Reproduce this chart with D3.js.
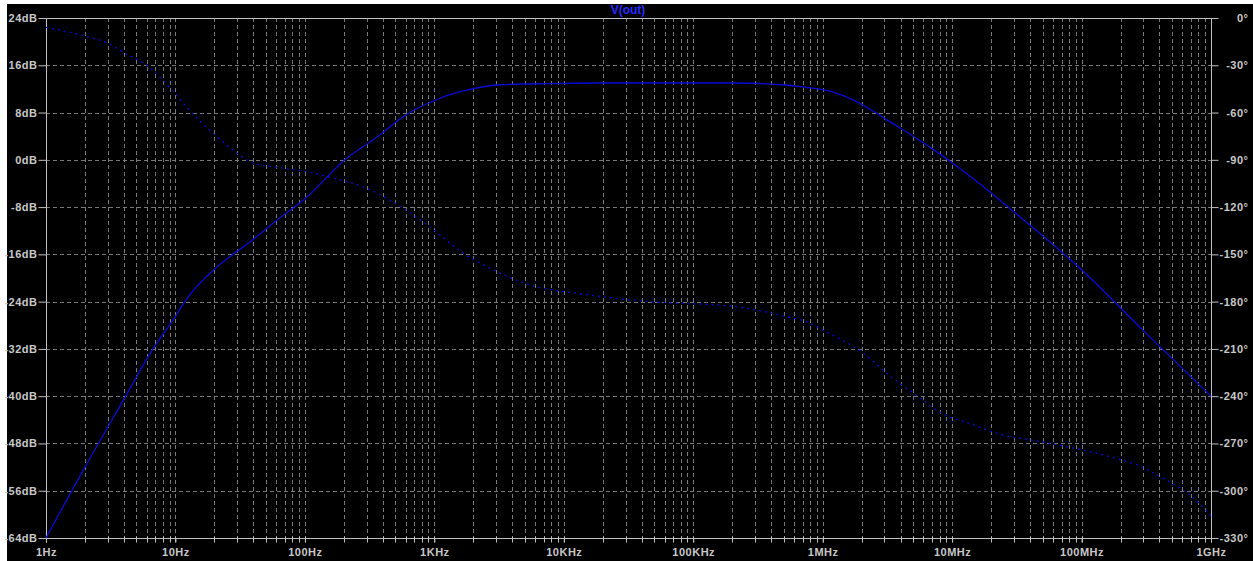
<!DOCTYPE html>
<html>
<head>
<meta charset="utf-8">
<script src="https://cdn.jsdelivr.net/npm/d3@7"></script>
<style>
  body { margin: 0; background: #ffffff; }
  .axisText { font-family: "Liberation Sans", Arial, sans-serif; font-size: 11px; font-weight: bold; fill: #c8c8c8; letter-spacing: 0.5px; }
</style>
</head>
<body>
<div id="chart"></div>
<script>
var magFreq = [1, 2, 4, 6.7, 10, 11.8, 20, 27.8, 37.6, 60, 100, 204, 379, 542, 682, 973, 1300, 1782, 3206, 7520, 2e4, 2e5, 4.9e5, 6.64e5, 1.19e6, 1.7e6, 2.43e6, 3.12e6, 5e6, 7e6, 1e7, 1.5e7, 3e7, 1e8, 3e8, 1e9];
var magDb   = [-64, -52, -40.5, -32, -26.5, -24, -18.5, -16, -13.9, -10.3, -6.6, 0, 4.2, 6.9, 8.3, 9.9, 11.0, 11.8, 12.7, 12.9, 13, 13, 12.7, 12.4, 11.5, 10.2, 8.3, 6.8, 4.0, 1.9, -0.5, -3.4, -8.8, -18.6, -28.9, -40];

// phase (degrees)
var phaseFreq = [1, 2, 3, 4, 6, 9, 13, 20, 26, 40, 64, 110, 156, 318, 571, 923, 1660, 2684, 5460, 13300, 46100, 2.02e5, 4.91e5, 7.94e5, 1e6, 1.25e6, 1.93e6, 3.47e6, 5.6e6, 8e6, 1.44e7, 2.45e7, 4.2e7, 7.65e7, 1.38e8, 1.96e8, 2.96e8, 4e8, 5.7e8, 8.15e8, 1e9];
var phaseDeg  = [-6, -11.4, -16, -22, -30, -44, -59, -74, -82, -92, -95, -98, -101, -109, -120.6, -132.6, -149, -158.7, -169.4, -175, -180, -183, -189, -193.6, -198, -202, -211, -228.5, -241, -250, -258, -264.6, -268, -272, -276.7, -280, -285, -291, -298, -308, -316];

// tick labels
var freqTicks = [1, 10, 100, 1e3, 1e4, 1e5, 1e6, 1e7, 1e8, 1e9];
var freqLabels = ["1Hz", "10Hz", "100Hz", "1KHz", "10KHz", "100KHz", "1MHz", "10MHz", "100MHz", "1GHz"];
var dbTicks = [24, 16, 8, 0, -8, -16, -24, -32, -40, -48, -56, -64];
var degTicks = [0, -30, -60, -90, -120, -150, -180, -210, -240, -270, -300, -330];
var traceName = "V(out)";

var svgWidth = 1253,
    svgHeight = 561,
    x0 = 46,
    x1 = 1211,
    y0 = 18,
    y1 = 538;

var gridColor = "#7a7a7a",
    axisColor = "#c0c0c0",
    traceColor = "#0a0ad8";

var svg = d3.select("#chart").append("svg")
  .attr("width", svgWidth)
  .attr("height", svgHeight);

// black background, with the thin white margin on top/left
svg.append("rect")
  .attr("x", 7)
  .attr("y", 4)
  .attr("width", svgWidth - 7)
  .attr("height", svgHeight - 4)
  .attr("fill", "#000000");

var x = d3.scaleLog().domain([1, 1e9]).range([x0, x1]);
var yDb = d3.scaleLinear().domain([-64, 24]).range([y1, y0]);
var yDeg = d3.scaleLinear().domain([-330, 0]).range([y1, y0]);

// minor frequencies 1..9 per decade for the vertical grid
var minorFreqs = [];
for (var d = 0; d < 9; d++) {
  for (var m = 1; m <= 9; m++) {
    minorFreqs.push(m * Math.pow(10, d));
  }
}
minorFreqs.push(1e9);

var grid = svg.append("g");

grid.selectAll(".vgrid")
  .data(minorFreqs.filter(function(f) { return f > 1 && f < 1e9; }))
  .enter().append("line")
  .attr("x1", function(f) { return Math.round(x(f)) + 0.5; })
  .attr("x2", function(f) { return Math.round(x(f)) + 0.5; })
  .attr("y1", y0)
  .attr("y2", y1)
  .attr("stroke", gridColor)
  .attr("stroke-dasharray", "4,3");

grid.selectAll(".hgrid")
  .data(dbTicks.filter(function(v) { return v < 24 && v > -64; }))
  .enter().append("line")
  .attr("x1", x0)
  .attr("x2", x1)
  .attr("y1", function(v) { return Math.round(yDb(v)) + 0.5; })
  .attr("y2", function(v) { return Math.round(yDb(v)) + 0.5; })
  .attr("stroke", gridColor)
  .attr("stroke-dasharray", "4,3");

// frame
svg.append("rect")
  .attr("x", x0 + 0.5)
  .attr("y", y0 + 0.5)
  .attr("width", x1 - x0)
  .attr("height", y1 - y0)
  .attr("fill", "none")
  .attr("stroke", axisColor);

// left axis (dB)
var leftAxis = d3.axisLeft(yDb)
  .tickValues(dbTicks)
  .tickSize(8)
  .tickPadding(1)
  .tickFormat(function(v) { return v + "dB"; });

var gl = svg.append("g")
  .attr("transform", "translate(" + (x0 + 0.5) + ",0)")
  .call(leftAxis);

// right axis (phase), labels right aligned against the window edge
var rightAxis = d3.axisRight(yDeg)
  .tickValues(degTicks)
  .tickSize(7)
  .tickPadding(2)
  .tickFormat(function(v) { return v + "\u00b0"; });

var gr = svg.append("g")
  .attr("transform", "translate(" + (x1 + 0.5) + ",0)")
  .call(rightAxis);

gr.selectAll(".tick text")
  .attr("x", 1248 - x1)
  .attr("text-anchor", "end");

// bottom axis (frequency), minor ticks across the axis line
var bottomAxis = d3.axisBottom(x)
  .tickValues(freqTicks)
  .tickSize(4)
  .tickPadding(6)
  .tickFormat(function(f, i) { return freqLabels[i]; });

var gb = svg.append("g")
  .attr("transform", "translate(0," + (y1 + 0.5) + ")")
  .call(bottomAxis);

gb.selectAll(".minor")
  .data(minorFreqs)
  .enter().append("line")
  .attr("x1", function(f) { return Math.round(x(f)) + 0.5; })
  .attr("x2", function(f) { return Math.round(x(f)) + 0.5; })
  .attr("y1", -2)
  .attr("y2", 4)
  .attr("stroke", axisColor);

[gl, gr, gb].forEach(function(g) {
  g.select(".domain").remove();
  g.selectAll(".tick line").attr("stroke", axisColor);
  g.selectAll(".tick text").attr("class", "axisText").attr("fill", null);
});

// trace name
svg.append("text")
  .attr("x", 628)
  .attr("y", 14)
  .attr("text-anchor", "middle")
  .style("font-family", "Liberation Sans, Arial, sans-serif")
  .style("font-size", "12px")
  .style("font-weight", "bold")
  .attr("fill", "#2a2aff")
  .text(traceName);

// magnitude trace
var magLine = d3.line()
  .x(function(d, i) { return x(magFreq[i]); })
  .y(function(d) { return yDb(d); })
  .curve(d3.curveMonotoneX);

svg.append("path")
  .datum(magDb)
  .attr("d", magLine)
  .attr("fill", "none")
  .attr("stroke", traceColor)
  .attr("stroke-width", 1.3);

// phase trace, dotted
var phaseLine = d3.line()
  .x(function(d, i) { return x(phaseFreq[i]); })
  .y(function(d) { return yDeg(d); })
  .curve(d3.curveMonotoneX);

svg.append("path")
  .datum(phaseDeg)
  .attr("d", phaseLine)
  .attr("fill", "none")
  .attr("stroke", traceColor)
  .attr("stroke-width", 1.3)
  .attr("stroke-dasharray", "2,4");
</script>
</body>
</html>
